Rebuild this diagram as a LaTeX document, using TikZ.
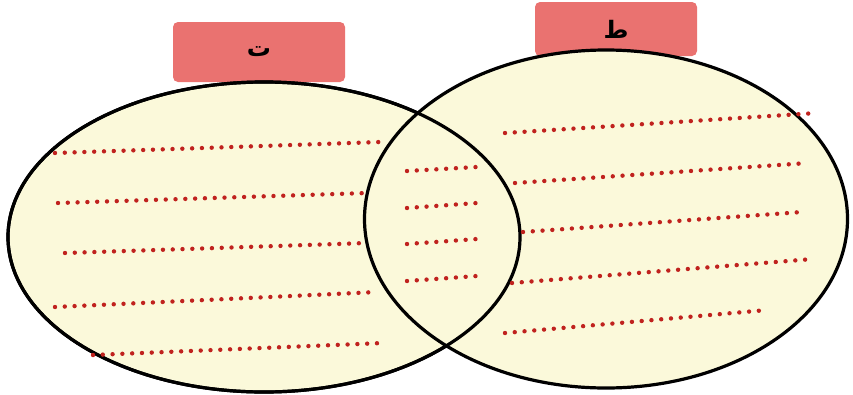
\documentclass[tikz,border=0pt]{standalone}
\usepackage{fontspec}
\usepackage{tikz}
\usetikzlibrary{shapes.geometric}
\TeXXeTstate=1
\newfontfamily\arabicfont[Script=Arabic]{DejaVu Sans}
\definecolor{tabred}{HTML}{EA7270}
\definecolor{paleyellow}{HTML}{FBF9DA}
\definecolor{dotred}{HTML}{C0221E}

\begin{document}
\begin{tikzpicture}[
  x=1pt, y=-1pt,
  tab/.style={fill=tabred, rounded corners=5pt, inner sep=0pt,
    font=\arabicfont\bfseries\fontsize{24}{24}\selectfont},
  venn/.style={ellipse, draw=black, line width=3.2pt, fill=paleyellow, inner sep=0pt},
  writeline/.style={dotred, line width=4.4pt, line cap=round,
    dash pattern=on 0pt off 9.8pt}
]
\useasboundingbox[fill=white] (0,0) rectangle (853,394);
% labels on top of the two sets
\node[tab, minimum width=172pt, minimum height=60pt] (tabT) at (259,52) {\beginR ت\endR};
\node[tab, minimum width=162pt, minimum height=54pt] (tabTa) at (616,29) {\beginR ط\endR};
% the two sets
\node[venn, minimum width=512pt, minimum height=310pt] (setT) at (264,237) {};
\node[venn, minimum width=483pt, minimum height=338pt] (setTa) at (606,219) {};
\draw[line width=3.2pt] (setT.center) ellipse [x radius=256pt, y radius=155pt];
% lines to write on
\foreach \xa/\ya/\xb/\yb in {55/153/380/142, 58/203/367/193, 65/253/367/243,
    55/307/377/292, 93/355/383/343,
    407/171/477/167, 407/208/477/203, 407/244/477/239, 407/281/477/276,
    505/133/817/113, 515/183/808/163, 523/232/802/212,
    512/283/813/259, 505/333/767/310}
  \draw[writeline] (\xa,\ya) -- (\xb,\yb);
\end{tikzpicture}
\end{document}
